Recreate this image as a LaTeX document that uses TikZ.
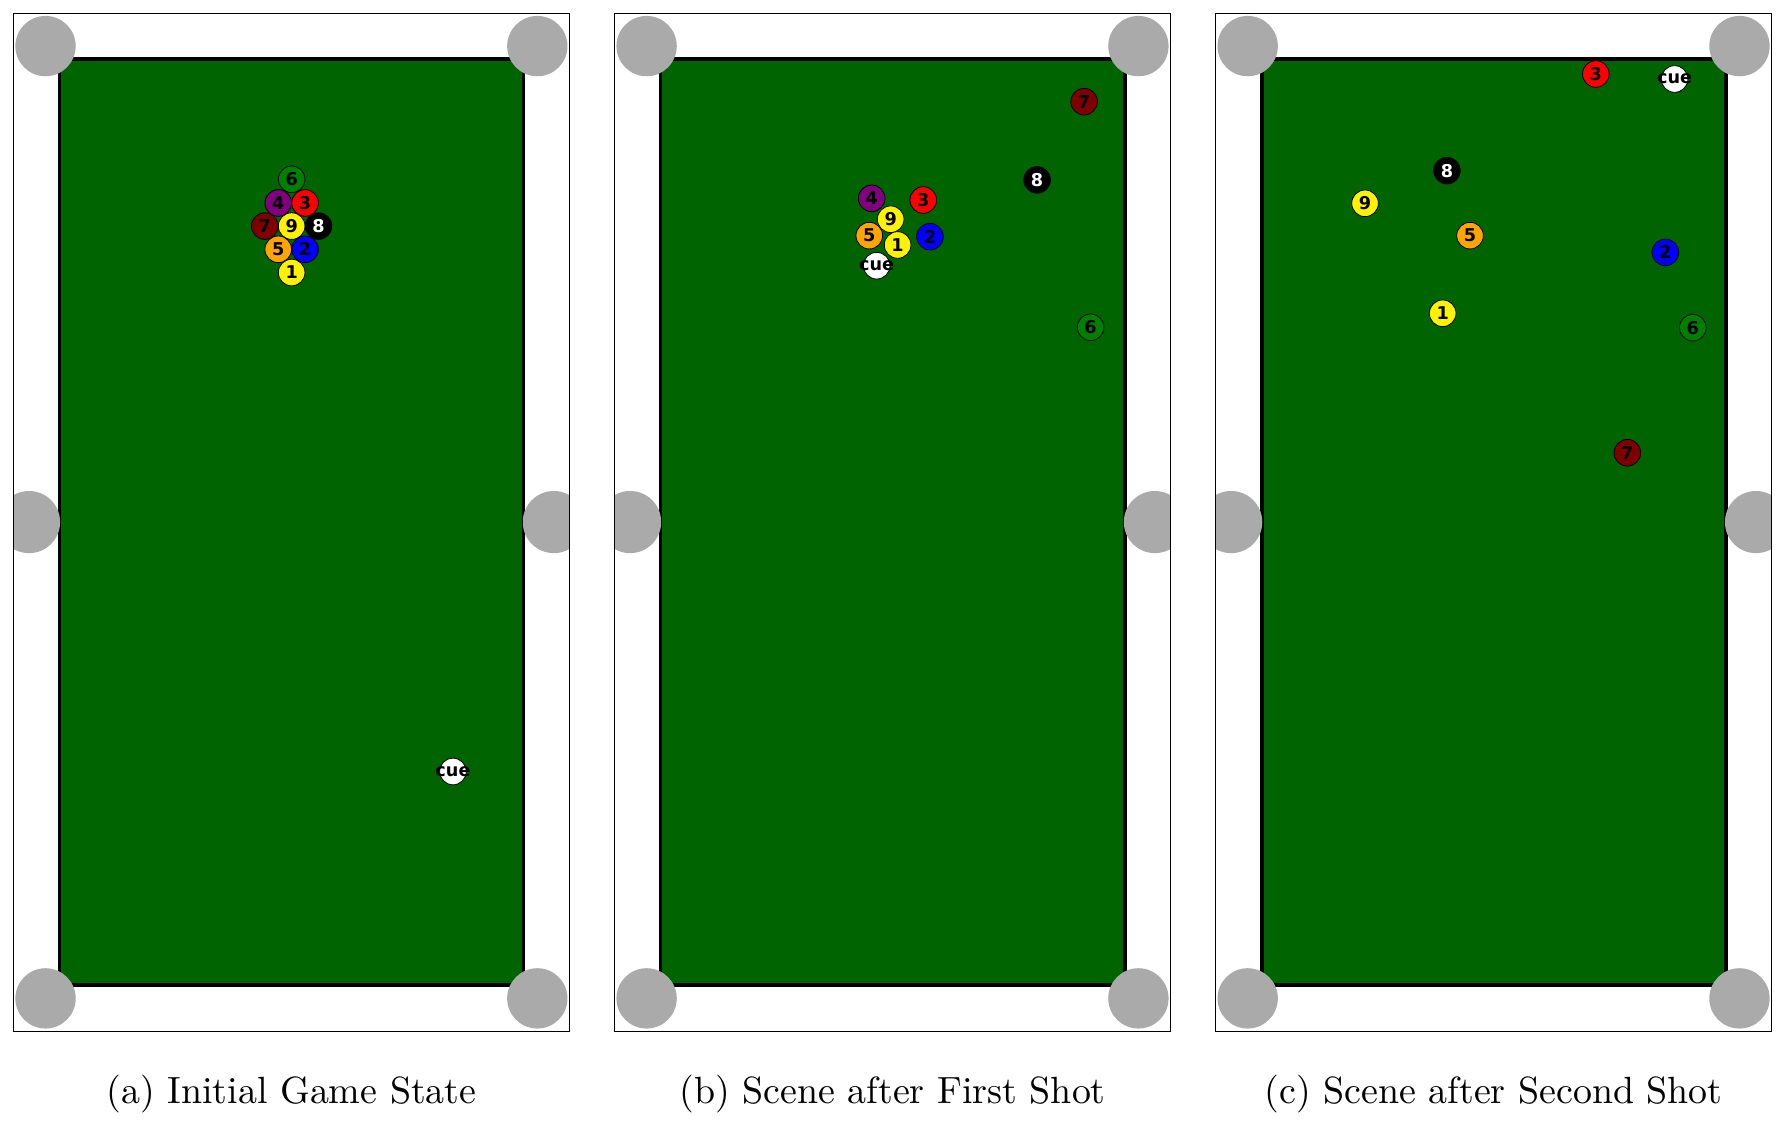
\documentclass[tikz,border=0pt]{standalone}
\usepackage{fontspec}
\newfontfamily\ballfont{DejaVu Sans}
\newfontfamily\capfont{lmroman10-regular.otf}
\definecolor{felt}{HTML}{006400}
\definecolor{pocketgray}{HTML}{AAAAAA}
\definecolor{ballpurple}{HTML}{800080}
\definecolor{ballorange}{HTML}{FFA500}
\definecolor{ballgreen}{HTML}{008000}
\definecolor{ballmaroon}{HTML}{800000}
\tikzset{
  tableframe/.style={draw=black, line width=1pt},
  feltbox/.style={fill=felt, draw=black, line width=3.2pt},
  pocket/.style={fill=pocketgray},
  ball/.style={circle, draw=black, line width=0.7pt, minimum size=23.4pt, inner sep=0pt,
    font=\ballfont\bfseries\fontsize{15.5}{15.5}\selectfont, text=black},
  b1/.style={ball, fill=yellow},
  b2/.style={ball, fill=blue},
  b3/.style={ball, fill=red},
  b4/.style={ball, fill=ballpurple},
  b5/.style={ball, fill=ballorange},
  b6/.style={ball, fill=ballgreen},
  b7/.style={ball, fill=ballmaroon},
  b8/.style={ball, fill=black, text=white},
  b9/.style={ball, fill=yellow},
  bcue/.style={ball, fill=white},
  captiontext/.style={anchor=base, inner sep=0pt, font=\capfont\fontsize{33.3}{40}\selectfont},
}
\newcommand\drawpooltable{%
  \fill[white] (12,12) rectangle (500,906);
  \draw[feltbox] (52.3,52) rectangle (460,865.5);
  \begin{scope}
    \clip (12,12) rectangle (500,906);
    \fill[pocket] (40,40.5) circle[radius=26.5pt];
    \fill[pocket] (472,40.5) circle[radius=26.5pt];
    \fill[pocket] (40,877) circle[radius=26.5pt];
    \fill[pocket] (472,877) circle[radius=26.5pt];
    \fill[pocket] (25.5,458.6) circle[radius=27.3pt];
    \fill[pocket] (486.5,458.6) circle[radius=27.3pt];
  \end{scope}
  \draw[tableframe] (12,12) rectangle (500,906);
}
\begin{document}
\begin{tikzpicture}[x=1pt,y=-1pt]
\useasboundingbox (0,0) rectangle (1568,987);
\fill[white] (0,0) rectangle (1568,987);
% tables
\begin{scope}\drawpooltable\end{scope}
\begin{scope}[xshift=528pt]\drawpooltable\end{scope}
\begin{scope}[xshift=1056pt]\drawpooltable\end{scope}
% panel (a)
\node[b6] (a6) at (256.2,157.5) {6};
\node[b4] (a4) at (244.4,178.3) {4};
\node[b3] (a3) at (268,178.3) {3};
\node[b7] (a7) at (232.6,198.6) {7};
\node[b9] (a9) at (256.2,198.6) {9};
\node[b8] (a8) at (279.8,198.6) {8};
\node[b5] (a5) at (244.4,219) {5};
\node[b2] (a2) at (268,219) {2};
\node[b1] (a1) at (256.2,239.4) {1};
\node[bcue] (acue) at (397.9,677.7) {\makebox[0pt]{cue}};
% panel (b)
\node[b7] (bb7) at (952.3,89.3) {7};
\node[b8] (bb8) at (911,158) {8};
\node[b4] (bb4) at (765.7,174.2) {4};
\node[b3] (bb3) at (811,175.7) {3};
\node[b9] (bb9) at (782.4,192.6) {9};
\node[b5] (bb5) at (763.6,207) {5};
\node[b2] (bb2) at (816.9,207.9) {2};
\node[b1] (bb1) at (788.5,215.2) {1};
\node[bcue] (bbcue) at (770.1,233.4) {\makebox[0pt]{cue}};
\node[b6] (bb6) at (958,287.5) {6};
% panel (c)
\node[b3] (c3) at (1401.8,65) {3};
\node[bcue] (ccue) at (1471,69.4) {\makebox[0pt]{cue}};
\node[b8] (c8) at (1271,149.9) {8};
\node[b9] (c9) at (1199.1,178.6) {9};
\node[b5] (c5) at (1291.3,207) {5};
\node[b2] (c2) at (1462.9,221.7) {2};
\node[b1] (c1) at (1267.3,275.2) {1};
\node[b6] (c6) at (1487,287.8) {6};
\node[b7] (c7) at (1429.5,397.7) {7};
% captions
\node[captiontext] (capa) at (256,969) {(a) Initial Game State};
\node[captiontext] (capb) at (784,969) {(b) Scene after First Shot};
\node[captiontext] (capc) at (1312,969) {(c) Scene after Second Shot};
\end{tikzpicture}
\end{document}
